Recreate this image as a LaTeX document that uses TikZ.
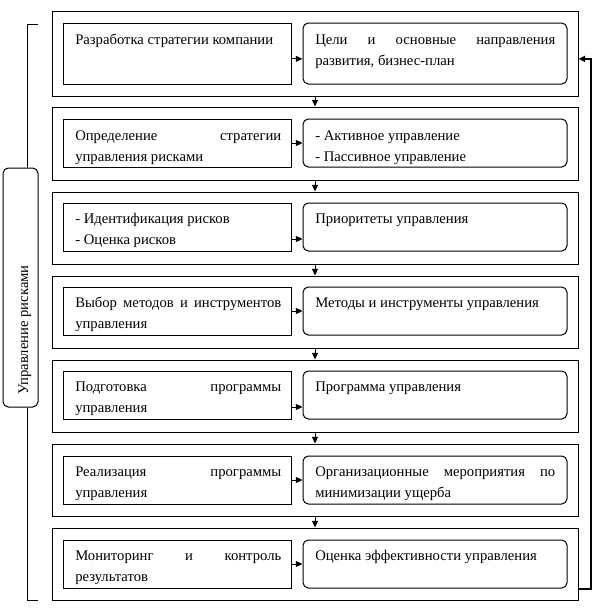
\documentclass[tikz,border=0pt]{standalone}
\usepackage{fontspec}
\setmainfont{Liberation Serif}
\usetikzlibrary{fit,arrows.meta}
\tikzset{
  frame/.style={draw,line width=0.75pt,inner sep=0pt},
  lbox/.style={draw,line width=0.75pt,inner sep=0pt},
  rbox/.style={draw,line width=0.75pt,inner sep=0pt,rounded corners=4pt},
  ltxt/.style={anchor=north west,inner sep=0pt,text width=154.5pt,align=justify,font=\fontsize{11}{15.5}\selectfont},
  rtxt/.style={anchor=north west,inner sep=0pt,text width=180pt,align=justify,font=\fontsize{11}{15.5}\selectfont},
  arr/.style={line width=0.75pt,-{Triangle[length=5pt,width=4.5pt]}},
  fb/.style={line width=1.5pt,-{Triangle[length=5pt,width=4.5pt]}},
}
\begin{document}
\begin{tikzpicture}[x=0.75pt,y=-0.75pt]
\hyphenpenalty=10000 \exhyphenpenalty=10000
\useasboundingbox (0,0) rectangle (603,612);
% outer frames
\node[frame,fit={(52,11) (578,96)}] (F1) {};
\node[frame,fit={(52,107) (578,180)}] (F2) {};
\node[frame,fit={(52,192) (578,264)}] (F3) {};
\node[frame,fit={(52,276) (578,348)}] (F4) {};
\node[frame,fit={(52,360) (578,432)}] (F5) {};
\node[frame,fit={(52,444) (578,516)}] (F6) {};
\node[frame,fit={(52,528) (578,600)}] (F7) {};
% left boxes
\node[lbox,fit={(63,23) (291,84)}] (L1) {};
\node[lbox,fit={(63,119) (291,167)}] (L2) {};
\node[lbox,fit={(63,203) (291,251)}] (L3) {};
\node[lbox,fit={(63,287) (291,335)}] (L4) {};
\node[lbox,fit={(63,371) (291,419)}] (L5) {};
\node[lbox,fit={(63,456) (291,504)}] (L6) {};
\node[lbox,fit={(63,540) (291,588)}] (L7) {};
% right boxes
\node[rbox,fit={(303,23) (567,84)}] (R1) {};
\node[rbox,fit={(303,119) (567,167)}] (R2) {};
\node[rbox,fit={(303,203) (567,251)}] (R3) {};
\node[rbox,fit={(303,287) (567,335)}] (R4) {};
\node[rbox,fit={(303,371) (567,419)}] (R5) {};
\node[rbox,fit={(303,456) (567,504)}] (R6) {};
\node[rbox,fit={(303,540) (567,588)}] (R7) {};
% texts
\node[ltxt] (tL1) at (75,30) {\strut Разработка стратегии компании};
\node[ltxt] (tL2) at (75,126) {\strut Определение стратегии\linebreak управления рисками};
\node[ltxt] (tL3) at (75,209) {\strut - Идентификация рисков\\- Оценка рисков};
\node[ltxt] (tL4) at (75,293) {\strut Выбор методов и инструментов\linebreak управления};
\node[ltxt] (tL5) at (75,377) {\strut Подготовка программы\linebreak управления};
\node[ltxt] (tL6) at (75,462) {\strut Реализация программы\linebreak управления};
\node[ltxt] (tL7) at (75,546) {\strut Мониторинг и контроль\linebreak результатов};
\node[rtxt] (tR1) at (315,30) {\strut Цели и основные направления\linebreak развития, бизнес-план};
\node[rtxt] (tR2) at (315,126) {\strut - Активное управление\\- Пассивное управление};
\node[rtxt] (tR3) at (315,209) {\strut Приоритеты управления};
\node[rtxt] (tR4) at (315,293) {\strut Методы и инструменты управления};
\node[rtxt] (tR5) at (315,377) {\strut Программа управления};
\node[rtxt] (tR6) at (315,462) {\strut Организационные мероприятия по\linebreak минимизации ущерба};
\node[rtxt] (tR7) at (315,546) {\strut Оценка эффективности управления};
% horizontal arrows
\draw[arr] ([yshift=-4pt]L1.east) -- ([yshift=-4pt]L1.east -| R1.west);
\draw[arr] (L2.east) -- (R2.west);
\draw[arr] ([yshift=-9pt]L3.east) -- ([yshift=-9pt]L3.east -| R3.west);
\draw[arr] (L4.east) -- (R4.west);
\draw[arr] ([yshift=-9pt]L5.east) -- ([yshift=-9pt]L5.east -| R5.west);
\draw[arr] (L6.east) -- (R6.west);
\draw[arr] (L7.east) -- (R7.west);
% vertical arrows
\coordinate (vx) at (315,0);
\draw[arr] (F1.south -| vx) -- (F2.north -| vx);
\draw[arr] (F2.south -| vx) -- (F3.north -| vx);
\draw[arr] (F3.south -| vx) -- (F4.north -| vx);
\draw[arr] (F4.south -| vx) -- (F5.north -| vx);
\draw[arr] (F5.south -| vx) -- (F6.north -| vx);
\draw[arr] (F6.south -| vx) -- (F7.north -| vx);
% feedback
\coordinate (fx) at (591,0);
\draw[fb] (R7.south -| F7.east) -| ([yshift=-4pt]F1.east -| fx) -- ([yshift=-4pt]F1.east);
% left bracket and label
\coordinate (bt) at (38,24);
\coordinate (bb) at (38,600);
\coordinate (bx) at (27,0);
\node[draw,line width=0.75pt,rounded corners=4pt,fill=white,inner sep=0pt,fit={(3,168) (38,407)}] (lab) {};
\draw[line width=0.75pt] (bt) -| (lab.north -| bx);
\draw[line width=0.75pt] (bb) -| (lab.south -| bx);
\node[rotate=90,anchor=base west,inner sep=0pt,font=\fontsize{11}{15.5}\selectfont] (labt) at (28,395) {Управление рисками};
\end{tikzpicture}
\end{document}
